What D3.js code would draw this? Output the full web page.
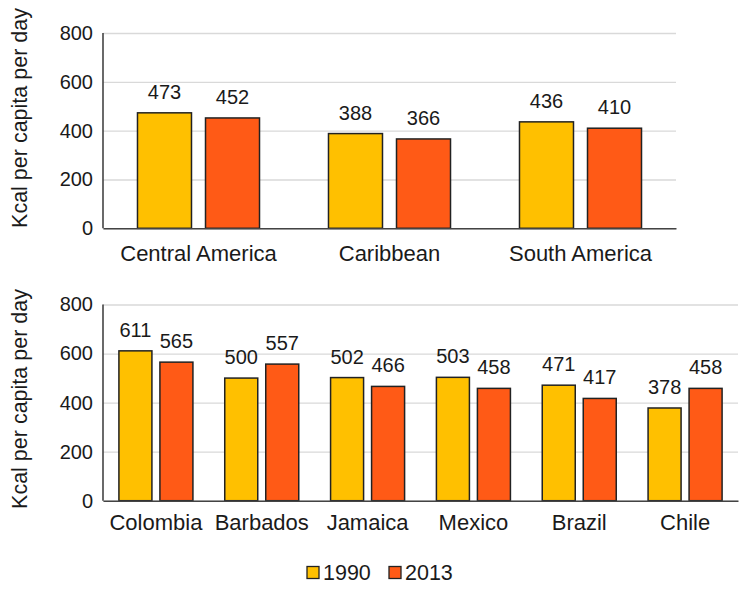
<!DOCTYPE html>
<html>
<head>
<meta charset="utf-8">
<script src="https://cdn.jsdelivr.net/npm/d3@7"></script>
<style>
  html, body { margin: 0; padding: 0; background: #fff; }
  svg { display: block; font-family: "Liberation Sans", Arial, sans-serif; }
</style>
</head>
<body>
<svg id="chart" width="748" height="592"></svg>
<script>
// ---- data ----
const regions = ["Central America", "Caribbean", "South America"];
const regions1990 = [473, 388, 436];
const regions2013 = [452, 366, 410];

const countries = ["Colombia", "Barbados", "Jamaica", "Mexico", "Brazil", "Chile"];
const countries1990 = [611, 500, 502, 503, 471, 378];
const countries2013 = [565, 557, 466, 458, 417, 458];

const seriesNames = ["1990", "2013"];
const yTicks = [0, 200, 400, 600, 800];
const yTitle = "Kcal per capita per day";

const colors = { "1990": "#FFC000", "2013": "#FF5A16" };

const svg = d3.select("#chart");

function panel(opts) {
  const { cats, v1, v2, left, right, top, bottom, innerPad, outerPad, labelGap, titleY } = opts;
  const y = d3.scaleLinear().domain([0, 800]).range([bottom, top]);
  const x0 = d3.scaleBand().domain(cats).range([left, right]).paddingInner(0).paddingOuter(0);
  const x1 = d3.scaleBand().domain(seriesNames).range([0, x0.bandwidth()])
    .paddingInner(innerPad).paddingOuter(outerPad);

  const g = svg.append("g");

  // gridlines
  g.append("g")
    .attr("transform", `translate(${left},0)`)
    .call(d3.axisLeft(y).tickValues(yTicks).tickSize(-(right - left)).tickFormat(""))
    .call(s => s.select(".domain").remove())
    .call(s => s.selectAll("line").attr("stroke", "#d9d9d9").attr("stroke-width", 1.3));

  // y axis labels
  g.append("g")
    .attr("transform", `translate(${left},0)`)
    .call(d3.axisLeft(y).tickValues(yTicks).tickSize(0).tickPadding(10))
    .call(s => s.select(".domain").remove())
    .call(s => s.selectAll("text").attr("font-size", 20).attr("fill", "#1a1a1a")
      .attr("font-family", "Liberation Sans, Arial, sans-serif"));

  // bars
  const rows = cats.map((c, i) => ({ cat: c, vals: [
    { s: "1990", v: v1[i] }, { s: "2013", v: v2[i] }] }));
  const grp = g.selectAll(".grp").data(rows).join("g")
    .attr("transform", d => `translate(${x0(d.cat)},0)`);
  grp.selectAll("rect").data(d => d.vals).join("rect")
    .attr("x", d => x1(d.s))
    .attr("width", x1.bandwidth())
    .attr("y", d => y(d.v))
    .attr("height", d => y(0) - y(d.v))
    .attr("fill", d => colors[d.s])
    .attr("stroke", "#222")
    .attr("stroke-width", 1.5);
  grp.selectAll("text.val").data(d => d.vals).join("text")
    .attr("class", "val")
    .attr("x", d => x1(d.s) + x1.bandwidth() / 2)
    .attr("y", d => y(d.v) - 14)
    .attr("text-anchor", "middle")
    .attr("font-size", 20)
    .attr("fill", "#1a1a1a")
    .text(d => d.v);

  // axes lines
  g.append("line").attr("x1", left).attr("x2", left).attr("y1", top).attr("y2", bottom)
    .attr("stroke", "#444").attr("stroke-width", 1.6);
  g.append("g")
    .attr("transform", `translate(0,${bottom})`)
    .call(d3.axisBottom(x0).tickSize(0).tickPadding(labelGap))
    .call(s => s.select(".domain").attr("stroke", "#444").attr("stroke-width", 1.6))
    .call(s => s.selectAll("text").attr("font-size", 22).attr("fill", "#1a1a1a")
      .attr("font-family", "Liberation Sans, Arial, sans-serif"));

  // y title
  svg.append("text")
    .attr("transform", `translate(27,${titleY}) rotate(-90)`)
    .attr("text-anchor", "middle")
    .attr("font-size", 21.5)
    .attr("fill", "#1a1a1a")
    .text(yTitle);
}

panel({ cats: regions, v1: regions1990, v2: regions2013,
  left: 103, right: 676, top: 33, bottom: 228.3,
  innerPad: 0.206, outerPad: 0.507, labelGap: 17, titleY: 118 });

panel({ cats: countries, v1: countries1990, v2: countries2013,
  left: 103, right: 738, top: 304.5, bottom: 500.7,
  innerPad: 0.195, outerPad: 0.388, labelGap: 14, titleY: 399 });

// legend
const legendX = { "1990": 307, "2013": 389 };
const lg = svg.append("g");
seriesNames.forEach(s => {
  lg.append("rect").attr("x", legendX[s]).attr("y", 566.5).attr("width", 12).attr("height", 12)
    .attr("fill", colors[s]).attr("stroke", "#222").attr("stroke-width", 1.3);
  lg.append("text").attr("x", legendX[s] + 16).attr("y", 579.5)
    .attr("font-size", 21.5).attr("fill", "#1a1a1a").text(s);
});
</script>
</body>
</html>
